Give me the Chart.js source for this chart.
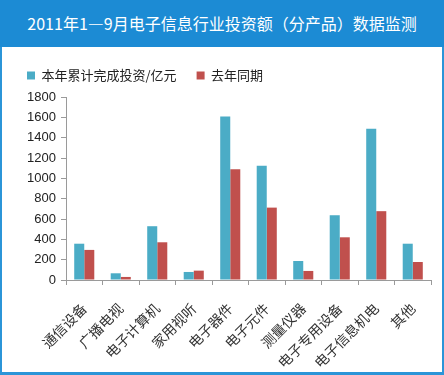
<!DOCTYPE html>
<html lang="zh-CN">
<head>
  <meta charset="UTF-8">
  <title>2011年1—9月电子信息行业投资额（分产品）数据监测</title>
  <script src="https://cdn.jsdelivr.net/npm/chart.js"></script>
  <style>
    body { margin: 0; background: #fff; }
    .frame {
      position: relative;
      width: 444px;
      height: 375px;
      background: #2b95d8;
      overflow: hidden;
    }
    .header {
      position: absolute;
      left: 0; top: 0;
      width: 444px; height: 47px;
      background: #1c8bd4;
      color: #fff;
      font: 16px "Noto Sans CJK SC", sans-serif;
      line-height: 47px;
      text-align: center;
    }
    .chart-box {
      position: absolute;
      left: 2px; top: 47px;
      width: 440px; height: 325px;
      background: #fff;
    }
  </style>
</head>
<body>
  <div class="frame">
    <div class="header">2011年1—9月电子信息行业投资额（分产品）数据监测</div>
    <div class="chart-box">
      <canvas id="invChart" width="440" height="325"></canvas>
    </div>
  </div>

  <script>
    // 分产品类别
    const categories = ['通信设备', '广播电视', '电子计算机', '家用视听', '电子器件',
                        '电子元件', '测量仪器', '电子专用设备', '电子信息机电', '其他'];
    // 本年累计完成投资（亿元）
    const thisYear = [357, 66, 529, 79, 1609, 1123, 187, 637, 1487, 357];
    // 去年同期
    const lastYear = [296, 30, 371, 92, 1090, 712, 89, 420, 677, 177];
    const yTicks = [0, 200, 400, 600, 800, 1000, 1200, 1400, 1600, 1800];

    const axisGray = '#9a9a9a';
    const legendHeight = 48; // 图例占的高度，绘图区从这里开始

    // 固定图例高度
    const fixLegend = {
      id: 'fixLegend',
      beforeLayout(chart) {
        const lg = chart.legend;
        if (lg && !lg._patched) {
          const fit = lg.fit;
          lg.fit = function () {
            fit.call(this);
            this.height = legendHeight;
          };
          lg._patched = true;
        }
      }
    };

    const ctx = document.getElementById('invChart').getContext('2d');
    const invChart = new Chart(ctx, {
      type: 'bar',
      data: {
        labels: categories,
        datasets: [{
          label: '本年累计完成投资/亿元',
          data: thisYear,
          backgroundColor: '#4bacc6',
          categoryPercentage: 0.55,
          barPercentage: 1
        }, {
          label: '去年同期',
          data: lastYear,
          backgroundColor: '#c0504d',
          categoryPercentage: 0.55,
          barPercentage: 1
        }]
      },
      plugins: [fixLegend],
      options: {
        responsive: false,
        animation: false,
        layout: {
          padding: { left: 5, top: 2, right: 11, bottom: 0 }
        },
        plugins: {
          title: { display: false },
          tooltip: { enabled: false },
          legend: {
            align: 'start',
            labels: {
              boxWidth: 8,
              boxHeight: 8,
              padding: 20,
              color: '#222',
              font: { family: '"Noto Sans CJK SC", sans-serif', size: 13 }
            }
          }
        },
        scales: {
          x: {
            grid: {
              offset: true,
              drawOnChartArea: false,
              tickLength: 5,
              color: axisGray
            },
            border: { color: axisGray },
            ticks: {
              maxRotation: 45,
              minRotation: 45,
              autoSkip: false,
              padding: 15,
              color: '#333',
              font: { family: '"Noto Sans CJK SC", sans-serif', size: 14 }
            },
            afterFit: function (scale) { scale.height = 92; }
          },
          y: {
            min: 0,
            max: 1800,
            afterBuildTicks: function (scale) {
              scale.ticks = yTicks.map(v => ({ value: v }));
            },
            grid: {
              drawOnChartArea: false,
              tickLength: 5,
              color: axisGray
            },
            border: { color: axisGray },
            ticks: {
              padding: 5,
              color: '#222',
              font: { family: '"Liberation Sans", Arial, sans-serif', size: 13 },
              callback: function (v) { return String(v); }
            },
            afterFit: function (scale) { scale.width = 59; }
          }
        }
      }
    });
  </script>
</body>
</html>
